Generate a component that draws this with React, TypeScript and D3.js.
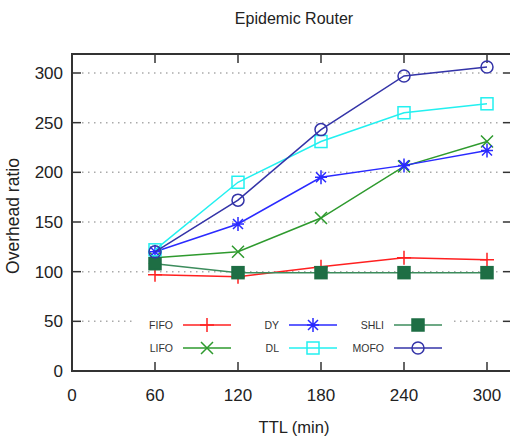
import React, { useEffect, useRef } from "react";
import * as d3 from "d3";

const ttl = [60, 120, 180, 240, 300];
const fifo = [97, 95, 105, 114, 112];
const lifo = [114, 120, 154, 206, 231];
const dy = [120, 148, 195, 207, 222];
const dl = [122, 190, 231, 260, 269];
const shli = [108, 99, 99, 99, 99];
const mofo = [120, 172, 243, 297, 306];
const xTicks = [0, 60, 120, 180, 240, 300];
const yTicks = [0, 50, 100, 150, 200, 250, 300];

const series = [
  { name: "FIFO", values: fifo, color: "#ff2020", marker: "plus" },
  { name: "LIFO", values: lifo, color: "#2e9a2e", marker: "cross" },
  { name: "DY", values: dy, color: "#2a2aff", marker: "star" },
  { name: "DL", values: dl, color: "#22f0f0", marker: "square" },
  { name: "SHLI", values: shli, color: "#3c8c5c", marker: "filled" },
  { name: "MOFO", values: mofo, color: "#3434a8", marker: "circle" },
];

const App = () => {
  const svgRef = useRef<SVGSVGElement>(null);

  useEffect(() => {
    const width = 510, height = 439;
    const left = 72, top = 54, bottom = 371;
    const svg = d3.select(svgRef.current);
    svg.selectAll("*").remove();
    svg.attr("width", width).attr("height", height);
    const font = "Liberation Sans, Arial, sans-serif";

    const x = d3.scaleLinear().domain([0, 318]).range([left, left + 318 * 83 / 60]);
    const y = d3.scaleLinear().domain([0, 300]).range([bottom, 73]);
    const right = x(318);

    // grid
    svg.append("g")
      .selectAll("line")
      .data(yTicks.slice(1))
      .join("line")
      .attr("x1", left + 10)
      .attr("x2", right - 10)
      .attr("y1", (d) => y(d))
      .attr("y2", (d) => y(d))
      .attr("stroke", "#aaa")
      .attr("stroke-width", 1.5)
      .attr("stroke-dasharray", "1.5,4.5");

    // title and labels
    svg.append("text").attr("x", 294).attr("y", 24).attr("text-anchor", "middle")
      .attr("font-family", font).attr("font-size", 16).attr("fill", "#222").text("Epidemic Router");
    svg.append("text").attr("x", 294).attr("y", 433).attr("text-anchor", "middle")
      .attr("font-family", font).attr("font-size", 16.5).attr("fill", "#222").text("TTL (min)");
    svg.append("text").attr("transform", `translate(19,216) rotate(-90)`)
      .attr("text-anchor", "middle").attr("font-family", font).attr("font-size", 17.5)
      .attr("fill", "#222").text("Overhead ratio");

    // tick labels
    svg.append("g").selectAll("text").data(yTicks).join("text")
      .attr("x", left - 9).attr("y", (d) => y(d) + 6).attr("text-anchor", "end")
      .attr("font-family", font).attr("font-size", 17).attr("fill", "#222").text((d) => d);
    svg.append("g").selectAll("text").data(xTicks).join("text")
      .attr("x", (d) => x(d)).attr("y", bottom + 30).attr("text-anchor", "middle")
      .attr("font-family", font).attr("font-size", 17).attr("fill", "#222").text((d) => d);

    // ticks
    const ticks = svg.append("g").attr("stroke", "#333").attr("stroke-width", 1.5);
    xTicks.slice(1).forEach((t) => {
      ticks.append("line").attr("x1", x(t)).attr("x2", x(t)).attr("y1", bottom).attr("y2", bottom - 9);
      ticks.append("line").attr("x1", x(t)).attr("x2", x(t)).attr("y1", top).attr("y2", top + 9);
    });
    yTicks.slice(1).forEach((t) => {
      ticks.append("line").attr("x1", left).attr("x2", left + 9).attr("y1", y(t)).attr("y2", y(t));
      ticks.append("line").attr("x1", right).attr("x2", right - 9).attr("y1", y(t)).attr("y2", y(t));
    });

    const drawMarker = (g: any, cx: number, cy: number, s: any) => {
      const c = s.color;
      const m = g.append("g").attr("transform", `translate(${cx},${cy})`)
        .attr("stroke", c).attr("stroke-width", 1.5).attr("fill", "none");
      if (s.marker === "plus") {
        m.append("path").attr("d", "M-7,0H7M0,-7V7");
      } else if (s.marker === "cross") {
        m.append("path").attr("d", "M-6,-6L6,6M-6,6L6,-6");
      } else if (s.marker === "star") {
        m.append("path").attr("d", "M-6,0H6M0,-7V7M-5,-5L5,5M-5,5L5,-5");
      } else if (s.marker === "square") {
        m.append("rect").attr("x", -6).attr("y", -6).attr("width", 12).attr("height", 12);
      } else if (s.marker === "filled") {
        m.append("rect").attr("x", -6).attr("y", -6).attr("width", 12).attr("height", 12)
          .attr("fill", "#1e6e44").attr("stroke", "#1e6e44");
      } else {
        m.append("circle").attr("r", 6);
      }
    };

    // legend background
    svg.append("rect").attr("x", 132).attr("y", 308).attr("width", 318).attr("height", 53).attr("fill", "#fff");

    const line = d3.line<number>().x((_, i) => x(ttl[i])).y((d) => y(d));
    const plot = svg.append("g");
    series.forEach((s) => {
      plot.append("path").datum(s.values).attr("fill", "none").attr("stroke", s.color)
        .attr("stroke-width", 1.5).attr("d", line);
      s.values.forEach((v, i) => drawMarker(plot, x(ttl[i]), y(v), s));
    });

    // legend
    const legend = svg.append("g");
    const cols = [173, 279, 384];
    const rows = [325, 348];
    series.forEach((s, k) => {
      const lx = cols[Math.floor(k / 2)];
      const ly = rows[k % 2];
      legend.append("text").attr("x", lx).attr("y", ly + 4).attr("text-anchor", "end")
        .attr("font-family", font).attr("font-size", 10.5).attr("fill", "#333").text(s.name);
      legend.append("line").attr("x1", lx + 10).attr("x2", lx + 58).attr("y1", ly).attr("y2", ly)
        .attr("stroke", s.color).attr("stroke-width", 1.5);
      drawMarker(legend, lx + 34, ly, s);
    });

    // border
    svg.append("rect").attr("x", left).attr("y", top).attr("width", right - left)
      .attr("height", bottom - top).attr("fill", "none").attr("stroke", "#333").attr("stroke-width", 2);
  }, []);

  return <svg ref={svgRef} style={{ position: "absolute", left: 0, top: 0 }}></svg>;
};

export default App;
